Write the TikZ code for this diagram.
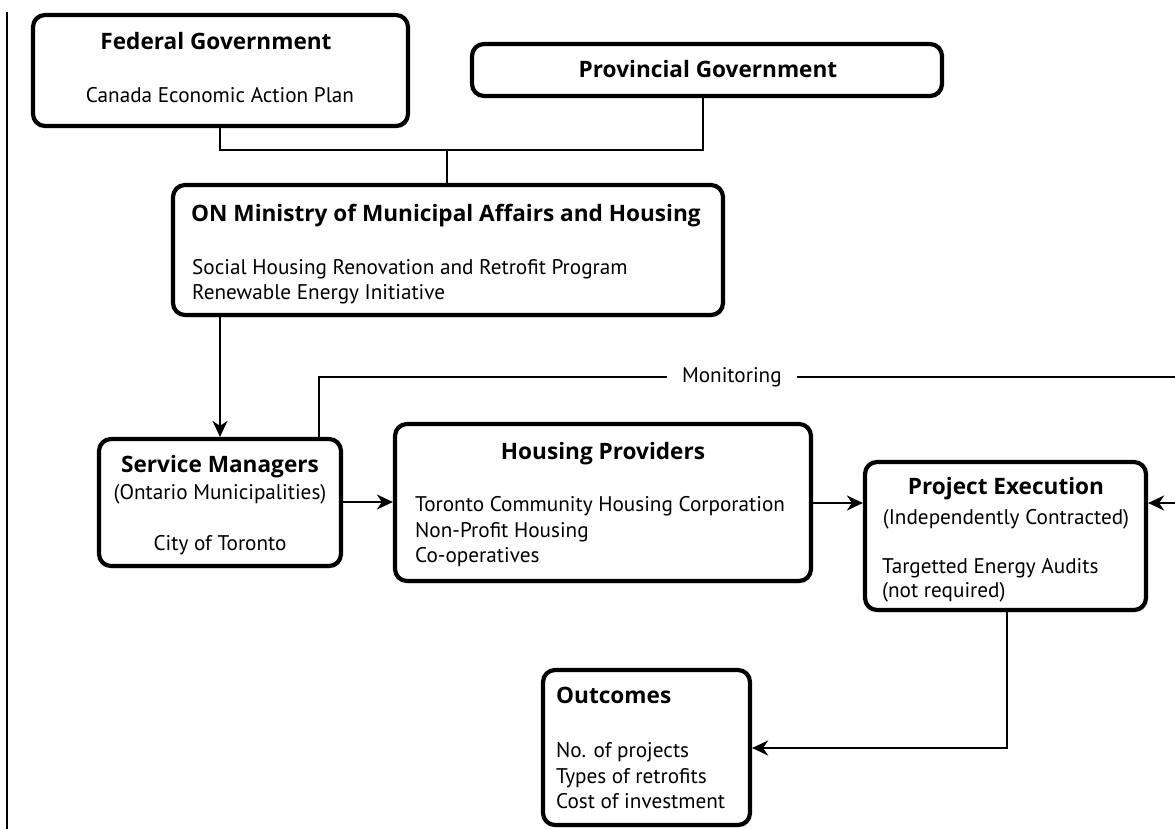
\documentclass[tikz,border=0pt]{standalone}
\usepackage{fontspec}
\setmainfont{PT Sans}
\newfontfamily\ttlfont{Open Sans}
\usetikzlibrary{arrows.meta,shadows}
\begin{document}
\begin{tikzpicture}[x=1pt,y=-1pt,
  box/.style={draw, line width=4.2pt, rounded corners=12pt, fill=white, inner sep=0pt,
    drop shadow={shadow xshift=1.2pt, shadow yshift=-2pt, fill=black, opacity=0.45}},
  ttl/.style={font=\ttlfont\bfseries\fontsize{22.6}{28}\selectfont, anchor=base, inner sep=0pt},
  txt/.style={font=\fontsize{21.2}{26}\selectfont, anchor=base, inner sep=0pt},
  txtl/.style={txt, anchor=base west},
  ttll/.style={ttl, anchor=base west},
  conn/.style={line width=1.9pt},
  arr/.style={conn, -{Stealth[length=16pt,width=15pt,inset=5pt]}},
  lbl/.style={font=\fontsize{21.2}{26}\selectfont, fill=white, inner xsep=15pt, inner ysep=2pt}]
\fill[white] (0,0) rectangle (1175,829);
\useasboundingbox (0,0) rectangle (1175,829);
\clip (0,0) rectangle (1175,829);

% left rule
\draw[conn] (7,12) -- (7,829);

% boxes
\node[box, minimum width=375pt, minimum height=111pt] (fed) at (220.5,70.5) {};
\node[box, minimum width=470pt, minimum height=52pt] (prov) at (707,70) {};
\node[box, minimum width=550pt, minimum height=130pt] (min) at (448,250) {};
\node[box, minimum width=242pt, minimum height=127pt] (sm) at (220,502.5) {};
\node[box, minimum width=416pt, minimum height=157pt] (hp) at (603,502.5) {};
\node[box, minimum width=281pt, minimum height=148pt] (pe) at (1005.5,536) {};
\node[box, minimum width=207pt, minimum height=155pt] (out) at (646.5,747.5) {};

% texts
\node[ttl] (fedT) at (216,50) {Federal Government};
\node[txt] (fedB) at (220,103) {Canada Economic Action Plan};
\node[ttl] (provT) at (708,78) {Provincial Government};
\node[ttl] (minT) at (446,222) {ON Ministry of Municipal Affairs and Housing};
\node[txtl] (minB1) at (192,274) {Social Housing Renovation and Retrofit Program};
\node[txtl] (minB2) at (192,299) {Renewable Energy Initiative};
\node[ttl] (smT) at (220,472) {Service Managers};
\node[txt] (smS) at (220,499) {(Ontario Municipalities)};
\node[txt] (smB) at (220,550) {City of Toronto};
\node[ttl] (hpT) at (603,459) {Housing Providers};
\node[txtl] (hpB1) at (415,511) {Toronto Community Housing Corporation};
\node[txtl] (hpB2) at (415,537) {Non-Profit Housing};
\node[txtl] (hpB3) at (415,562) {Co-operatives};
\node[ttl] (peT) at (1006,494) {Project Execution};
\node[txt] (peS) at (1006,524) {(Independently Contracted)};
\node[txtl] (peB1) at (882,573) {Targetted Energy Audits};
\node[txtl] (peB2) at (882,597) {(not required)};
\node[ttll] (outT) at (556,703) {Outcomes};
\node[txtl] (outB1) at (556,757) {No. of projects};
\node[txtl] (outB2) at (556,783) {Types of retrofits};
\node[txtl] (outB3) at (556,808) {Cost of investment};

% connector coordinates
\coordinate (j1) at (220,150);
\coordinate (j2) at (703,150);
\coordinate (j3) at (447,150);
\coordinate (m1) at (319,377);
\coordinate (m2) at (1190,377);
\coordinate (m3) at (1190,503);
\coordinate (a1) at (0,502);
\coordinate (a2) at (0,503);
\coordinate (o1) at (1007,748);

% connectors
\draw[conn] (fed.south -| j1) -- (j1) -- (j2) -- (prov.south -| j2);
\draw[conn] (j3) -- (min.north -| j3);
\draw[arr] (min.south -| sm.north) -- (sm.north);
\draw[arr] (sm.north -| m1) -- (m1) -- node[lbl, pos=0.474] (mon) {Monitoring} (m2) -- (m3) -- (pe.east |- m3);
\draw[arr] (sm.east |- a1) -- (hp.west |- a1);
\draw[arr] (hp.east |- a2) -- (pe.west |- a2);
\draw[arr] (pe.south -| o1) -- (o1) -- (out.east |- o1);
\end{tikzpicture}
\end{document}
